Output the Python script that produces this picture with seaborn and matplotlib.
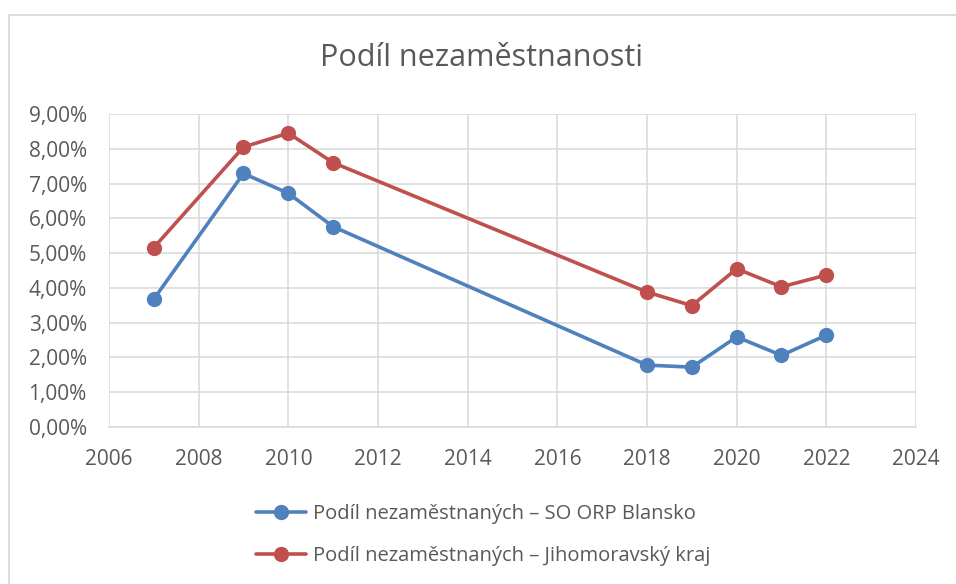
import matplotlib
matplotlib.use("Agg")
import matplotlib.pyplot as plt
import matplotlib.ticker as mticker
from matplotlib.lines import Line2D
import seaborn as sns
import pandas as pd

years = [2007, 2009, 2010, 2011, 2018, 2019, 2020, 2021, 2022]
blansko = [3.68, 7.29, 6.72, 5.76, 1.78, 1.72, 2.59, 2.06, 2.64]
jmk = [5.16, 8.05, 8.45, 7.60, 3.88, 3.49, 4.55, 4.03, 4.37]
series_names = ["Podíl nezaměstnaných – SO ORP Blansko",
                "Podíl nezaměstnaných – Jihomoravský kraj"]
colors = ["#4F81BD", "#C0504D"]
title = "Podíl nezaměstnanosti"

df = pd.DataFrame({
    "Rok": years * 2,
    "Podíl": blansko + jmk,
    "Řada": [series_names[0]] * len(years) + [series_names[1]] * len(years),
})

sns.set_theme(style="white")
plt.rcParams["font.family"] = ["Open Sans", "DejaVu Sans"]

W, H = 956, 584
fig = plt.figure(figsize=(W / 100, H / 100), dpi=100)
ax = fig.add_axes([109 / W, 1 - 427 / H, (916 - 109) / W, (427 - 114) / H])

sns.lineplot(data=df, x="Rok", y="Podíl", hue="Řada", palette=colors,
             hue_order=series_names, marker="o", markersize=11,
             markeredgewidth=0, linewidth=2.6, legend=False, ax=ax, zorder=3)

ax.set_xlim(2006, 2024)
ax.set_ylim(0, 9)
ax.set_xticks(range(2006, 2025, 2))
ax.set_yticks(range(0, 10))
ax.yaxis.set_major_formatter(mticker.FuncFormatter(lambda v, p: f"{v:.2f}%".replace(".", ",")))
ax.grid(True, color="#D9D9D9", linewidth=1.1)
ax.set_axisbelow(True)
for s in ["top", "right", "left"]:
    ax.spines[s].set_visible(False)
ax.spines["bottom"].set_color("#D9D9D9")
ax.spines["bottom"].set_linewidth(1.1)
ax.tick_params(axis="both", length=0, labelsize=15, labelcolor="#595959")
ax.tick_params(axis="y", pad=16)
ax.tick_params(axis="x", pad=16)
ax.set_xlabel("")
ax.set_ylabel("")

fig.text(482 / W, 1 - 58 / H, title, ha="center", va="center", fontsize=22, color="#595959")

handles = [Line2D([0], [0], color=c, linewidth=2.6, marker="o", markersize=11,
                  markeredgewidth=0) for c in colors]
fig.legend(handles, series_names, loc="upper left",
           bbox_to_anchor=(256 / W, 1 - 504 / H), frameon=False,
           fontsize=14.5, labelcolor="#595959", handlelength=2.5,
           handletextpad=0.32, labelspacing=1.1, borderpad=0, borderaxespad=0)

# chart area border
fig.add_artist(Line2D([9 / W, 1.0], [1 - 15 / H, 1 - 15 / H], color="#D9D9D9",
                      linewidth=1.3, transform=fig.transFigure))
fig.add_artist(Line2D([9 / W, 9 / W], [1 - 15 / H, 0.0], color="#D9D9D9",
                      linewidth=1.3, transform=fig.transFigure))

fig.savefig("out.png", dpi=100)
